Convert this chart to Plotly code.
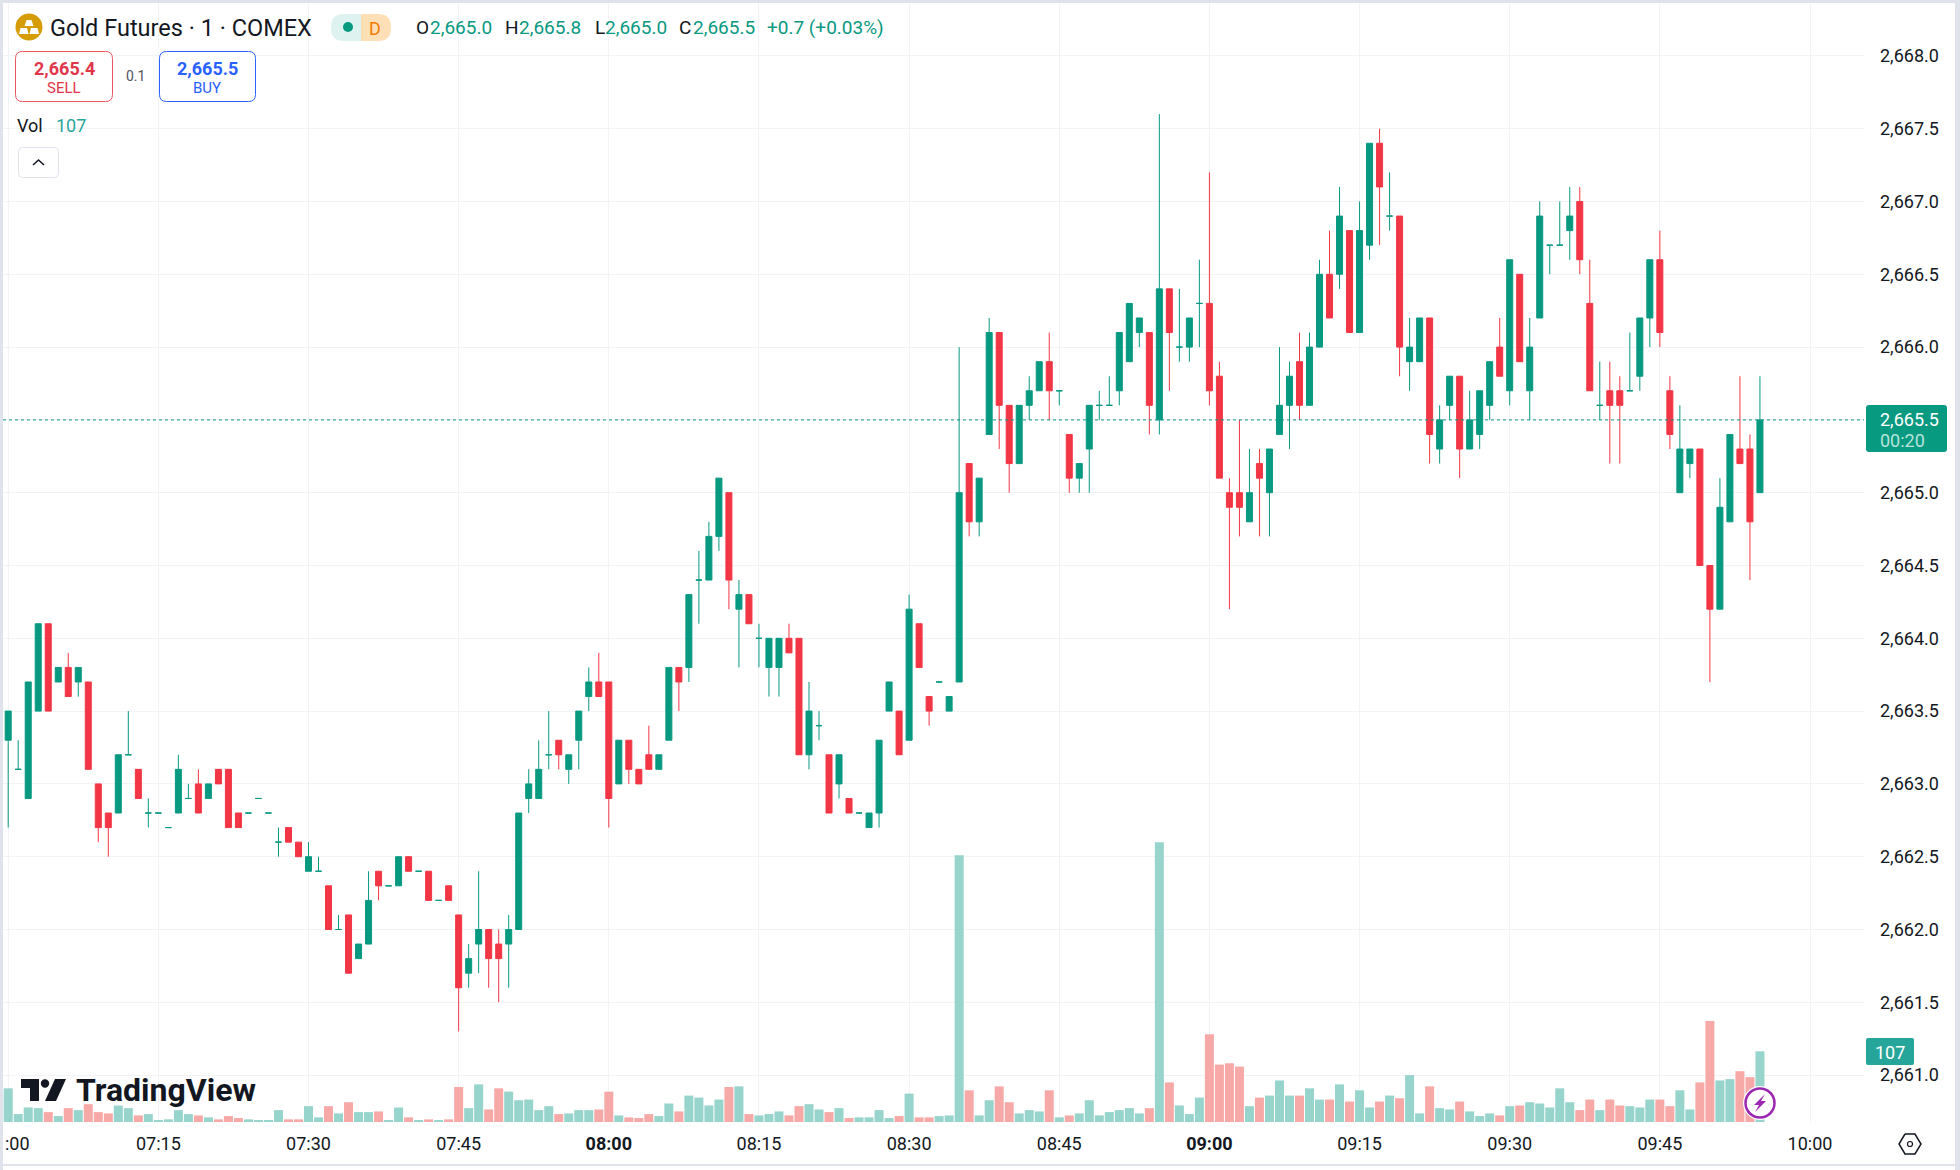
import pandas as pd
import plotly.graph_objects as go

W, H = 1960, 1170
LEFT, RIGHT, TOP, BOTTOM = 3, 1864, 3, 1122

UP = "#089981"
DOWN = "#F23645"
UP_VOL = "#97d4cc"
DOWN_VOL = "#f7a9a7"
INK = "#131722"
FONT = "Roboto"

# one minute bars from 07:00
open_ = [
    2663.3, 2663.1, 2662.9, 2663.5, 2664.1, 2663.7, 2663.8, 2663.7, 2663.7, 2663.0,
    2662.8, 2662.8, 2663.2, 2663.1, 2662.8, 2662.8, 2662.7, 2662.8, 2662.9, 2663.0,
    2662.9, 2663.1, 2663.1, 2662.8, 2662.8, 2662.9, 2662.8, 2662.6, 2662.7, 2662.6,
    2662.4, 2662.4, 2662.3, 2662.0, 2662.1, 2661.8, 2661.9, 2662.4, 2662.3, 2662.3,
    2662.5, 2662.4, 2662.4, 2662.2, 2662.3, 2662.1, 2661.7, 2661.9, 2662.0, 2661.9,
    2661.9, 2662.0, 2662.9, 2662.9, 2663.2, 2663.3, 2663.1, 2663.3, 2663.6, 2663.7,
    2663.7, 2663.0, 2663.3, 2663.1, 2663.2, 2663.1, 2663.3, 2663.8, 2663.8, 2664.4,
    2664.4, 2664.7, 2665.0, 2664.2, 2664.3, 2664.0, 2663.8, 2663.8, 2664.0, 2664.0,
    2663.2, 2663.4, 2663.2, 2663.0, 2662.9, 2662.8, 2662.7, 2662.8, 2663.5, 2663.5,
    2663.3, 2664.1, 2663.6, 2663.7, 2663.5, 2663.7, 2665.2, 2664.8, 2665.4, 2666.1,
    2665.6, 2665.2, 2665.6, 2665.7, 2665.9, 2665.7, 2665.4, 2665.1, 2665.3, 2665.6,
    2665.6, 2665.7, 2665.9, 2666.1, 2666.1, 2665.5, 2666.4, 2666.0, 2666.0, 2666.3,
    2666.3, 2665.8, 2665.0, 2665.0, 2664.8, 2665.2, 2665.0, 2665.4, 2665.6, 2665.9,
    2665.6, 2666.0, 2666.5, 2666.5, 2666.8, 2666.1, 2666.7, 2667.4, 2666.9, 2666.9,
    2665.9, 2665.9, 2666.2, 2665.3, 2665.6, 2665.8, 2665.3, 2665.4, 2665.6, 2666.0,
    2665.7, 2666.5, 2665.7, 2666.2, 2666.7, 2666.7, 2666.8, 2667.0, 2666.3, 2665.6,
    2665.7, 2665.7, 2665.7, 2665.8, 2666.2, 2666.6, 2665.7, 2665.0, 2665.2, 2665.3,
    2664.5, 2664.2, 2664.8, 2665.3, 2665.3, 2665.0,
]
high = [
    2663.5, 2663.3, 2663.7, 2664.1, 2664.1, 2663.8, 2663.9, 2663.8, 2663.7, 2663.0,
    2662.8, 2663.2, 2663.5, 2663.1, 2662.9, 2662.8, 2662.7, 2663.2, 2663.0, 2663.1,
    2663.0, 2663.1, 2663.1, 2662.8, 2662.8, 2662.9, 2662.8, 2662.7, 2662.7, 2662.6,
    2662.6, 2662.5, 2662.3, 2662.1, 2662.1, 2661.9, 2662.4, 2662.4, 2662.3, 2662.5,
    2662.5, 2662.4, 2662.4, 2662.2, 2662.3, 2662.1, 2661.9, 2662.4, 2662.0, 2662.0,
    2662.1, 2662.8, 2663.1, 2663.3, 2663.5, 2663.3, 2663.2, 2663.5, 2663.8, 2663.9,
    2663.7, 2663.3, 2663.3, 2663.1, 2663.4, 2663.2, 2663.8, 2663.8, 2664.3, 2664.6,
    2664.8, 2665.1, 2665.0, 2664.4, 2664.3, 2664.1, 2664.0, 2664.0, 2664.1, 2664.0,
    2663.7, 2663.5, 2663.2, 2663.2, 2662.9, 2662.8, 2662.8, 2663.3, 2663.7, 2663.5,
    2664.3, 2664.1, 2663.6, 2663.7, 2663.6, 2666.0, 2665.2, 2665.1, 2666.2, 2666.1,
    2665.6, 2665.6, 2665.8, 2665.9, 2666.1, 2665.7, 2665.4, 2665.2, 2665.6, 2665.7,
    2665.8, 2666.1, 2666.3, 2666.2, 2666.1, 2667.6, 2666.4, 2666.4, 2666.2, 2666.6,
    2667.2, 2665.9, 2665.1, 2665.5, 2665.3, 2665.3, 2665.3, 2666.0, 2665.9, 2666.1,
    2666.1, 2666.6, 2666.8, 2667.1, 2666.8, 2667.0, 2667.4, 2667.5, 2667.2, 2666.9,
    2666.2, 2666.2, 2666.2, 2665.6, 2665.8, 2665.8, 2665.7, 2665.7, 2665.9, 2666.2,
    2666.6, 2666.5, 2666.2, 2667.0, 2666.7, 2667.0, 2667.1, 2667.1, 2666.6, 2665.9,
    2665.9, 2665.8, 2666.1, 2666.2, 2666.6, 2666.8, 2665.8, 2665.6, 2665.3, 2665.3,
    2664.5, 2665.1, 2665.4, 2665.8, 2665.4, 2665.8,
]
low = [
    2662.7, 2663.1, 2662.9, 2663.5, 2663.5, 2663.7, 2663.6, 2663.6, 2663.1, 2662.6,
    2662.5, 2662.8, 2663.2, 2662.9, 2662.7, 2662.8, 2662.7, 2662.8, 2662.9, 2662.8,
    2662.9, 2663.0, 2662.7, 2662.7, 2662.8, 2662.9, 2662.8, 2662.5, 2662.6, 2662.5,
    2662.4, 2662.4, 2662.0, 2662.0, 2661.7, 2661.8, 2661.9, 2662.2, 2662.3, 2662.3,
    2662.4, 2662.4, 2662.2, 2662.2, 2662.2, 2661.3, 2661.6, 2661.7, 2661.6, 2661.5,
    2661.6, 2662.0, 2662.8, 2662.9, 2663.1, 2663.1, 2663.0, 2663.1, 2663.5, 2663.6,
    2662.7, 2663.0, 2663.0, 2663.0, 2663.1, 2663.1, 2663.3, 2663.5, 2663.7, 2664.1,
    2664.4, 2664.6, 2664.2, 2663.8, 2664.1, 2663.8, 2663.6, 2663.6, 2663.9, 2663.2,
    2663.1, 2663.3, 2662.8, 2662.9, 2662.8, 2662.8, 2662.7, 2662.7, 2663.5, 2663.2,
    2663.3, 2663.8, 2663.4, 2663.7, 2663.5, 2663.7, 2664.7, 2664.7, 2665.4, 2665.3,
    2665.0, 2665.2, 2665.5, 2665.7, 2665.5, 2665.6, 2665.0, 2665.0, 2665.0, 2665.5,
    2665.6, 2665.6, 2665.9, 2666.0, 2665.4, 2665.4, 2665.7, 2665.9, 2665.9, 2666.0,
    2665.6, 2665.1, 2664.2, 2664.7, 2664.8, 2664.7, 2664.7, 2665.4, 2665.3, 2665.5,
    2665.6, 2666.0, 2666.2, 2666.4, 2666.1, 2666.1, 2666.6, 2666.7, 2666.8, 2665.8,
    2665.7, 2665.9, 2665.2, 2665.2, 2665.5, 2665.1, 2665.3, 2665.3, 2665.5, 2665.8,
    2665.6, 2665.9, 2665.5, 2666.2, 2666.5, 2666.7, 2666.6, 2666.5, 2665.7, 2665.5,
    2665.2, 2665.2, 2665.7, 2665.7, 2666.0, 2666.0, 2665.3, 2665.0, 2665.1, 2664.5,
    2663.7, 2664.2, 2664.8, 2665.2, 2664.4, 2665.0,
]
close = [
    2663.5, 2663.1, 2663.7, 2664.1, 2663.5, 2663.8, 2663.6, 2663.8, 2663.1, 2662.7,
    2662.7, 2663.2, 2663.2, 2662.9, 2662.8, 2662.8, 2662.7, 2663.1, 2662.9, 2662.8,
    2663.0, 2663.0, 2662.7, 2662.7, 2662.8, 2662.9, 2662.8, 2662.6, 2662.6, 2662.5,
    2662.5, 2662.4, 2662.0, 2662.0, 2661.7, 2661.9, 2662.2, 2662.3, 2662.3, 2662.5,
    2662.4, 2662.4, 2662.2, 2662.2, 2662.2, 2661.6, 2661.8, 2662.0, 2661.8, 2661.8,
    2662.0, 2662.8, 2663.0, 2663.1, 2663.2, 2663.2, 2663.2, 2663.5, 2663.7, 2663.6,
    2662.9, 2663.3, 2663.1, 2663.0, 2663.1, 2663.2, 2663.8, 2663.7, 2664.3, 2664.4,
    2664.7, 2665.1, 2664.4, 2664.3, 2664.1, 2664.0, 2664.0, 2664.0, 2663.9, 2663.2,
    2663.5, 2663.4, 2662.8, 2663.2, 2662.8, 2662.8, 2662.8, 2663.3, 2663.7, 2663.2,
    2664.2, 2663.8, 2663.5, 2663.7, 2663.6, 2665.0, 2664.8, 2665.1, 2666.1, 2665.6,
    2665.2, 2665.6, 2665.7, 2665.9, 2665.7, 2665.7, 2665.1, 2665.2, 2665.6, 2665.6,
    2665.6, 2666.1, 2666.3, 2666.2, 2665.6, 2666.4, 2666.1, 2666.0, 2666.2, 2666.3,
    2665.7, 2665.1, 2664.9, 2664.9, 2665.0, 2665.1, 2665.3, 2665.6, 2665.8, 2665.6,
    2666.0, 2666.5, 2666.2, 2666.9, 2666.1, 2666.8, 2667.4, 2667.1, 2666.9, 2666.0,
    2666.0, 2666.2, 2665.4, 2665.5, 2665.8, 2665.3, 2665.5, 2665.7, 2665.9, 2665.8,
    2666.6, 2665.9, 2666.0, 2666.9, 2666.7, 2666.7, 2666.9, 2666.6, 2665.7, 2665.6,
    2665.6, 2665.6, 2665.7, 2666.2, 2666.6, 2666.1, 2665.4, 2665.3, 2665.3, 2664.5,
    2664.2, 2664.9, 2665.4, 2665.2, 2664.8, 2665.5,
]
volume = [
    51, 12, 22, 21, 15, 9, 21, 18, 27, 15,
    13, 25, 21, 10, 12, 3, 4, 18, 12, 10,
    7, 4, 9, 6, 4, 3, 3, 18, 4, 4,
    24, 7, 24, 13, 30, 15, 15, 16, 3, 22,
    7, 3, 4, 3, 4, 53, 21, 57, 19, 51,
    46, 33, 34, 18, 24, 12, 13, 18, 18, 19,
    46, 10, 7, 6, 12, 9, 28, 16, 40, 37,
    25, 34, 53, 54, 12, 10, 12, 16, 10, 24,
    27, 19, 15, 21, 6, 7, 7, 18, 6, 9,
    43, 7, 7, 9, 10, 404, 48, 10, 33, 54,
    30, 13, 18, 16, 48, 7, 10, 13, 33, 10,
    15, 18, 21, 13, 21, 424, 60, 25, 12, 37,
    133, 87, 89, 84, 24, 37, 40, 63, 40, 40,
    51, 34, 34, 57, 31, 48, 22, 31, 40, 36,
    71, 13, 54, 21, 19, 31, 16, 9, 13, 10,
    24, 25, 30, 28, 22, 51, 30, 18, 34, 18,
    34, 25, 24, 22, 34, 34, 24, 48, 19, 60,
    153, 63, 65, 77, 68, 107,
]

price_ticks = [2661.0, 2661.5, 2662.0, 2662.5, 2663.0, 2663.5, 2664.0, 2664.5,
               2665.0, 2665.5, 2666.0, 2666.5, 2667.0, 2667.5, 2668.0]
price_labels = ["2,661.0", "2,661.5", "2,662.0", "2,662.5", "2,663.0", "2,663.5", "2,664.0", "2,664.5",
                "2,665.0", "2,665.5", "2,666.0", "2,666.5", "2,667.0", "2,667.5", "2,668.0"]
time_ticks = ["07:00", "07:15", "07:30", "07:45", "08:00", "08:15", "08:30", "08:45",
              "09:00", "09:15", "09:30", "09:45", "10:00"]
time_labels = ["", "07:15", "07:30", "07:45", "<b>08:00</b>", "08:15", "08:30", "08:45",
               "<b>09:00</b>", "09:15", "09:30", "09:45", "10:00"]

DAY = "2024-11-20 "
times = pd.date_range(DAY + "07:00", periods=len(close), freq="min")

up_idx = [i for i in range(len(close)) if close[i] >= open_[i]]
down_idx = [i for i in range(len(close)) if close[i] < open_[i]]
vol_colors = [UP_VOL if close[i] >= open_[i] else DOWN_VOL for i in range(len(close))]


def px(x):
    return (x - LEFT) / (RIGHT - LEFT)


def py(y):
    return 1 - (y - TOP) / (BOTTOM - TOP)


def candles(idx, color):
    return go.Candlestick(
        x=[times[i] for i in idx],
        open=[open_[i] for i in idx],
        high=[high[i] for i in idx],
        low=[low[i] for i in idx],
        close=[close[i] for i in idx],
        increasing=dict(line=dict(color=color, width=1), fillcolor=color),
        decreasing=dict(line=dict(color=color, width=1), fillcolor=color),
        whiskerwidth=0,
        xaxis="x",
        yaxis="y",
        hoverinfo="skip",
    )


fig = go.Figure()
fig.add_trace(go.Bar(x=times, y=volume, marker_color=vol_colors, marker_line_width=0,
                     xaxis="x", yaxis="y2", hoverinfo="skip"))
fig.add_trace(candles(up_idx, UP))
fig.add_trace(candles(down_idx, DOWN))

# pixel scale of the picture: 10.01 px a minute, 07:00 at x=8.2, 145.6 px a dollar, 2664 at y=638.3
x_start = pd.Timestamp(DAY + "07:00") + pd.Timedelta(minutes=(LEFT - 8.2) / 10.01)
x_end = pd.Timestamp(DAY + "07:00") + pd.Timedelta(minutes=(RIGHT - 8.2) / 10.01)
y_top = 2664 + (638.3 - TOP) / 145.6
y_bottom = 2664 - (BOTTOM - 638.3) / 145.6

fig.update_layout(
    width=W,
    height=H,
    margin=dict(l=LEFT, r=W - RIGHT, t=TOP, b=H - BOTTOM, autoexpand=False),
    paper_bgcolor="white",
    plot_bgcolor="white",
    showlegend=False,
    bargap=0.1,
    boxgap=0.4,
    boxgroupgap=0,
    font=dict(family=FONT, color=INK, size=18),
    xaxis=dict(
        type="date",
        range=[x_start, x_end],
        rangeslider=dict(visible=False),
        tickvals=[DAY + t for t in time_ticks],
        ticktext=time_labels,
        ticks="",
        ticklabelstandoff=9,
        tickfont=dict(size=18, color=INK),
        showgrid=True,
        gridcolor="#f1f3f6",
        gridwidth=1,
        showline=False,
        zeroline=False,
    ),
    yaxis=dict(
        side="right",
        range=[y_bottom, y_top],
        tickvals=price_ticks,
        ticktext=price_labels,
        ticks="",
        ticklabelstandoff=15,
        tickfont=dict(size=18, color=INK),
        showgrid=True,
        gridcolor="#f1f3f6",
        gridwidth=1,
        showline=False,
        zeroline=False,
    ),
    yaxis2=dict(
        overlaying="y",
        range=[0, (BOTTOM - TOP) / 0.66],
        visible=False,
    ),
)


def label(x, y, text, size=18, color=INK, anchor="left"):
    fig.add_annotation(xref="paper", yref="paper", x=px(x), y=py(y), text=text, showarrow=False,
                       xanchor=anchor, yanchor="middle", borderpad=0,
                       font=dict(family=FONT, size=size, color=color))


def poly(points, fill, line=None, width=0):
    d = "M" + " L".join(f"{px(a)},{py(b)}" for a, b in points)
    if fill != "none":
        d += " Z"
    fig.add_shape(type="path", xref="paper", yref="paper", path=d, fillcolor=fill if fill != "none" else None,
                  line=dict(color=line or fill, width=width))


def rounded(x0, y0, x1, y1, r, fill, line=None, width=0, corners=(1, 1, 1, 1)):
    rtl, rtr, rbr, rbl = [r * c for c in corners]
    d = (f"M{px(x0 + rtl)},{py(y0)} L{px(x1 - rtr)},{py(y0)} Q{px(x1)},{py(y0)} {px(x1)},{py(y0 + rtr)} "
         f"L{px(x1)},{py(y1 - rbr)} Q{px(x1)},{py(y1)} {px(x1 - rbr)},{py(y1)} "
         f"L{px(x0 + rbl)},{py(y1)} Q{px(x0)},{py(y1)} {px(x0)},{py(y1 - rbl)} "
         f"L{px(x0)},{py(y0 + rtl)} Q{px(x0)},{py(y0)} {px(x0 + rtl)},{py(y0)} Z")
    fig.add_shape(type="path", xref="paper", yref="paper", path=d, fillcolor=fill,
                  line=dict(color=line or fill, width=width))


def circle(cx, cy, r, fill, line=None, width=0):
    fig.add_shape(type="circle", xref="paper", yref="paper",
                  x0=px(cx - r), x1=px(cx + r), y0=py(cy + r), y1=py(cy - r),
                  fillcolor=fill, line=dict(color=line or fill, width=width))


# last price line
fig.add_shape(type="line", xref="paper", yref="y", x0=0, x1=1, y0=close[-1], y1=close[-1],
              line=dict(color=UP, width=1, dash="dot"))

# window border
for box in [(0, 0, W, 3), (0, 0, 3, H), (1955, 0, W, H), (0, 1164, W, 1166)]:
    fig.add_shape(type="rect", xref="paper", yref="paper", x0=px(box[0]), x1=px(box[2]),
                  y0=py(box[3]), y1=py(box[1]), fillcolor="#e0e3eb", line_width=0)

# symbol logo
circle(29, 27, 13.5, "#d69c06")
poly([(26.5, 20), (31.5, 20), (33.5, 26), (24.5, 26)], "white")
poly([(20.5, 28), (27, 28), (28.5, 34), (19, 34)], "white")
poly([(31, 28), (37.5, 28), (39, 34), (29.5, 34)], "white")

label(48.5, 28, "Gold Futures · 1 · COMEX", size=23.5)

# market status pill
rounded(331, 14, 361, 41, 13, "#def3ef", corners=(1, 0, 0, 1))
rounded(361, 14, 391, 41, 13, "#ffdfb5", corners=(0, 1, 1, 0))
circle(348, 27, 5, UP)
label(375, 28, "D", size=18, color="#f57c00", anchor="center")

# ohlc readout
readout = [
    (414.5, "O", INK), (429, "2,665.0", UP), (503.5, "H", INK), (518, "2,665.8", UP),
    (594, "L", INK), (604, "2,665.0", UP), (678, "C", INK), (691.5, "2,665.5", UP),
    (766, "+0.7 (+0.03%)", UP),
]
for rx, txt, col in readout:
    label(rx, 27.5, txt, size=19, color=col)

# sell and buy buttons
rounded(15.5, 51.5, 112.5, 101.5, 7, "white", line="#e9545f", width=1)
label(64, 68, "<b>2,665.4</b>", size=18, color="#e0364a", anchor="center")
label(64, 88.5, "SELL", size=15, color="#e0364a", anchor="center")
label(135, 76, "0.1", size=14, color="#50535e", anchor="center")
rounded(159.5, 51.5, 255.5, 101.5, 7, "white", line="#2962ff", width=1)
label(207, 68, "<b>2,665.5</b>", size=18, color="#2962ff", anchor="center")
label(207, 88.5, "BUY", size=15, color="#2962ff", anchor="center")

label(16, 126, "Vol", size=18)
label(55, 126, "107", size=18, color="#26a69a")

# collapse button
rounded(18.5, 147.5, 58.5, 177.5, 4, "white", line="#e0e3eb", width=1)
poly([(33, 165), (38.5, 160), (44, 165)], "none", line=INK, width=1.5)

label(4, 1143, ":00", size=18)

# price and volume tags on the axis
rounded(1866, 405, 1947, 452, 3, UP)
label(1879, 419, "2,665.5", size=18, color="white")
label(1879, 440, "00:20", size=18, color="#b5e5dc")
rounded(1866, 1038, 1914, 1065, 2, "#26a69a")
label(1890, 1052, "107", size=18, color="white", anchor="center")

# watermark
poly([(21, 1079), (39, 1079), (39, 1101), (30, 1101), (30, 1088), (21, 1088)], INK)
circle(45, 1083.5, 4.2, INK)
poly([(66, 1079), (56, 1101), (45, 1101), (55, 1079)], INK)
label(75, 1090, "<b>TradingView</b>", size=32)

# lightning badge
circle(1760, 1103, 17, "white")
circle(1760, 1103, 14.5, "white", line="#9c27b0", width=2.5)
poly([(1765, 1094), (1754, 1105), (1759, 1105), (1755, 1112), (1766, 1101), (1761, 1101)], "#9c27b0")

# settings hexagon at the bottom right
poly([(1905, 1134), (1915, 1134), (1921, 1144), (1915, 1154), (1905, 1154), (1899, 1144), (1905, 1134)],
     "none", line=INK, width=1.5)
circle(1910, 1144, 2.5, "white", line=INK, width=1.2)

# the figure is the full window, so the page's default body margin has to go
fig.write_html("out.html", config={"displayModeBar": False},
               post_script="document.body.style.margin='0';document.body.style.overflow='hidden';")
